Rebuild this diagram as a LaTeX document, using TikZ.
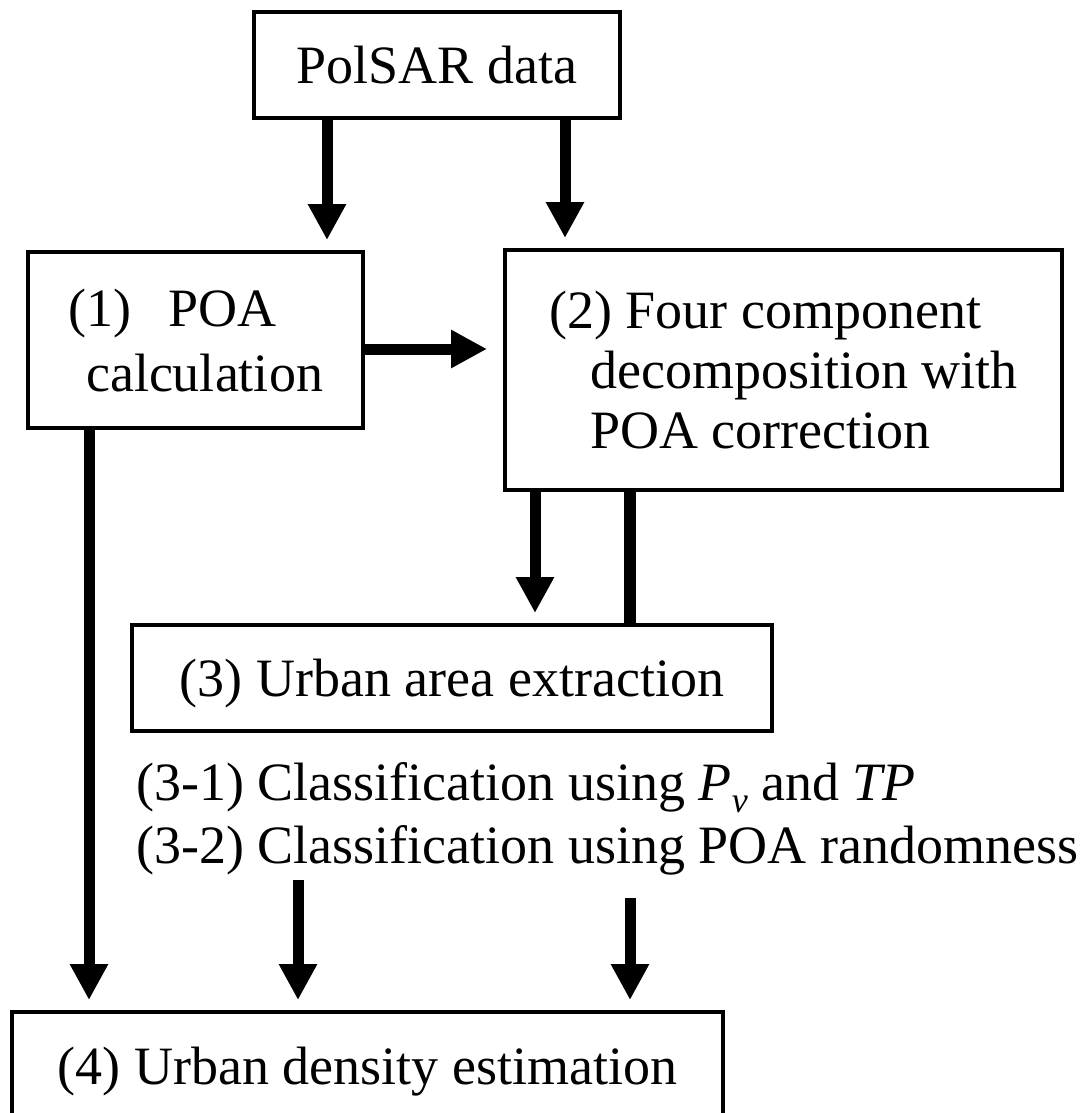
\documentclass[tikz,border=0pt]{standalone}
\usepackage{fontspec}
\setmainfont{Liberation Serif}
\usetikzlibrary{arrows.meta}
\tikzset{
      block/.style={draw=black, line width=2pt, rectangle, inner sep=0pt, text depth=0pt,
            font=\fontsize{27}{30}\selectfont},
      note/.style={anchor=base west, inner sep=0pt, font=\fontsize{27}{30}\selectfont},
      flow/.style={draw=black, line width=5.5pt, -{Triangle[length=18pt,width=18pt]}, shorten >=5pt},
      link/.style={draw=black, line width=6pt},
}

\begin{document}
\begin{tikzpicture}[x=0.5pt, y=-0.5pt]
        \useasboundingbox (0,0) rectangle (1091,1113);

        % Draw the boxes
        \node[block, minimum width=183pt, minimum height=53pt] (data) at (437,65) {PolSAR data};
        \node[block, minimum width=167.5pt, minimum height=88pt, align=left] (poa) at (195.5,340)
              {(1)\hspace{0.7em}POA\\[2.5pt]\hspace*{9pt}calculation};
        \node[block, minimum width=278.5pt, minimum height=120pt, align=left] (decomp) at (783.5,370)
              {(2) Four component\\\hspace*{20.5pt}decomposition with\\\hspace*{20.5pt}POA correction};
        \node[block, minimum width=320pt, minimum height=53pt] (urban) at (452,678) {(3) Urban area extraction};
        \node[block, minimum width=355.5pt, minimum height=54pt] (est) at (367.5,1066) {(4) Urban density estimation};

        % The two classification steps
        \node[note] (cls1) at (136,800) {(3-1) Classification using \textit{P}\raisebox{-6pt}{\fontsize{18}{18}\selectfont\textit{v}} and \textit{TP}};
        \node[note] (cls2) at (136,863) {(3-2) Classification using POA randomness};

        % Draw the connectors
        \coordinate (c1) at (327,0);
        \coordinate (c2) at (565,0);
        \coordinate (c3) at (89,0);
        \coordinate (c4) at (535,0);
        \coordinate (c5) at (630,0);
        \coordinate (h1) at (0,349);
        \coordinate (s1) at (298,880);
        \coordinate (s2) at (630,898);

        \draw[flow] (data.south -| c1) -- (c1 |- poa.north);
        \draw[flow] (data.south -| c2) -- (c2 |- decomp.north);
        \draw[flow, shorten >=8pt] (poa.east |- h1) -- (decomp.west |- h1);
        \draw[flow] (poa.south -| c3) -- (c3 |- est.north);
        \draw[flow] (decomp.south -| c4) -- (c4 |- urban.north);
        \draw[link] (decomp.south -| c5) -- (c5 |- urban.north);
        \draw[flow] (s1) -- (s1 |- est.north);
        \draw[flow] (s2) -- (s2 |- est.north);

\end{tikzpicture}
\end{document}
